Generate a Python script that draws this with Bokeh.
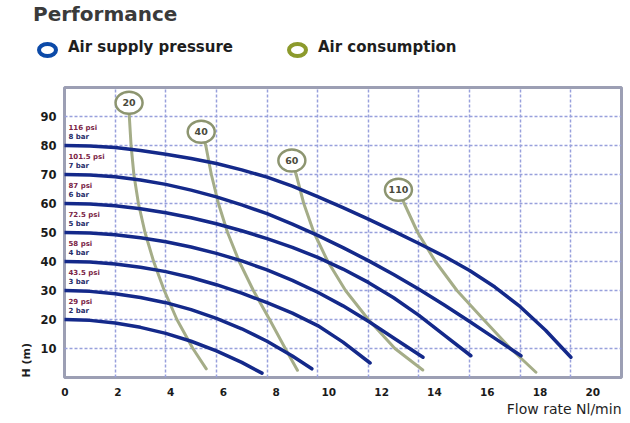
from bokeh.plotting import figure
from bokeh.layouts import column
from bokeh.models import (Range1d, LinearAxis, FixedTicker, Title, Div,
                          ColumnDataSource)
from bokeh.core.properties import value
from bokeh.embed import file_html
from bokeh.resources import INLINE

FONT = "DejaVu Sans"

# ---------------- data ----------------
flow_ticks = [0, 2, 4, 6, 8, 10, 12, 14, 16, 18, 20]
head_ticks = [10, 20, 30, 40, 50, 60, 70, 80, 90]

pressure_bar = ["8 bar", "7 bar", "6 bar", "5 bar", "4 bar", "3 bar", "2 bar"]
pressure_psi = ["116 psi", "101.5 psi", "87 psi", "72.5 psi", "58 psi", "43.5 psi", "29 psi"]

q_8bar = [0, 1, 2, 3, 4, 5, 6, 7, 8, 9, 10, 11, 12, 13, 14, 15, 16, 17, 18, 19, 20]
h_8bar = [80, 79.8, 79.3, 78.3, 77.0, 75.5, 73.8, 71.6, 69.1, 66.0, 62.4, 58.6,
          54.6, 50.5, 46.2, 41.8, 36.9, 31.2, 24.4, 16.3, 7]
q_7bar = [0, 1, 2, 3, 4, 5, 6, 7, 8, 9, 10, 11, 12, 13, 14, 15, 16, 17, 18.03]
h_7bar = [70, 69.8, 69.2, 68.1, 66.6, 64.6, 62.3, 59.5, 56.5, 52.9, 49.0, 44.8,
          40.3, 35.5, 30.4, 25.0, 19.3, 13.5, 7.5]
q_6bar = [0, 1, 2, 3, 4, 5, 6, 7, 8, 9, 10, 11, 12, 13, 14, 15, 16.05]
h_6bar = [60, 59.8, 59.2, 58.2, 56.8, 55.1, 53.0, 50.6, 47.9, 44.9, 41.4, 37.4,
          32.8, 27.5, 21.4, 14.6, 7.5]
q_5bar = [0, 1, 2, 3, 4, 5, 6, 7, 8, 9, 10, 11, 12, 13, 14.16]
h_5bar = [50, 49.8, 49.2, 48.2, 46.8, 45.0, 42.8, 40.2, 37.1, 33.5, 29.4, 24.7,
          19.4, 13.6, 7]
q_4bar = [0, 1, 2, 3, 4, 5, 6, 7, 8, 9, 10, 11, 12.07]
h_4bar = [40, 39.8, 39.1, 38.0, 36.5, 34.5, 32.0, 29.1, 25.8, 22.2, 17.9, 12.2, 5]
q_3bar = [0, 1, 2, 3, 4, 5, 6, 7, 8, 9, 9.77]
h_3bar = [30, 29.7, 28.9, 27.6, 25.8, 23.4, 20.4, 16.8, 12.5, 7.4, 3]
q_2bar = [0, 1, 2, 3, 4, 5, 6, 7, 7.8]
h_2bar = [20, 19.7, 18.8, 17.3, 15.2, 12.5, 9.2, 5.2, 1.5]

air_labels = ["20", "40", "60", "110"]
air_label_q = [2.55, 5.40, 8.98, 13.19]
air_label_h = [94.7, 84.7, 74.8, 64.7]
q_air20 = [2.55, 2.56, 2.63, 2.74, 2.92, 3.18, 3.52, 3.94, 4.44, 5.07, 5.6]
h_air20 = [94.7, 90, 80, 70, 60, 50, 40, 30, 20, 10, 3]
q_air40 = [5.40, 5.58, 5.80, 6.08, 6.44, 6.90, 7.46, 8.10, 8.72, 9.2]
h_air40 = [84.7, 80, 70, 60, 50, 40, 30, 20, 10, 2.5]
q_air60 = [8.98, 9.15, 9.45, 9.85, 10.4, 11.1, 12.0, 13.05, 14.15]
h_air60 = [74.8, 70, 60, 50, 40, 30, 20, 10, 2.6]
q_air110 = [13.19, 13.42, 13.95, 14.65, 15.5, 16.55, 17.62, 18.62]
h_air110 = [64.7, 60, 50, 40, 30, 20, 10, 1.8]

title_text = "Performance"
legend_labels = ["Air supply pressure", "Air consumption"]
legend_colors = ["#0c4aa8", "#8c9a2c"]

# ---------------- styles ----------------
BLUE = "#14298a"
OLIVE = "#a5ad88"
GRID = "#98a0dc"

# ---------- header: title + legend (HTML text) ----------
legend_left = [37, 287]
parts = [
    '<div style="position:relative;width:629px;height:85px;'
    'font-family:\'DejaVu Sans\';">',
    '<div style="position:absolute;left:33px;top:4px;font-size:20px;'
    'line-height:20px;font-weight:bold;color:#3a3a3a;white-space:nowrap;">'
    + title_text + '</div>',
]
for lab, col, lx in zip(legend_labels, legend_colors, legend_left):
    parts.append(
        f'<div style="position:absolute;left:{lx}px;top:42px;'
        'box-sizing:border-box;width:21px;height:16px;'
        f'border:4px solid {col};border-radius:50%;"></div>')
    parts.append(
        f'<div style="position:absolute;left:{lx + 31}px;top:40px;'
        'font-size:15px;line-height:15px;font-weight:bold;color:#1e1e1e;'
        f'white-space:nowrap;">{lab}</div>')
parts.append('</div>')
header = Div(text="".join(parts), width=629, height=85, margin=0)

# ---------- main chart ----------
p = figure(frame_width=557, frame_height=290,
           x_range=Range1d(0, 22), y_range=Range1d(0, 100),
           x_axis_location=None,
           output_backend="svg", toolbar_location=None,
           min_border_left=64, min_border_top=2, min_border_right=8,
           min_border_bottom=44,
           background_fill_color="white", border_fill_color="white")

p.outline_line_color = "#9c9fb4"
p.outline_line_width = 3

p.xgrid.ticker = FixedTicker(ticks=flow_ticks[1:])
p.ygrid.ticker = FixedTicker(ticks=head_ticks)
for g in (p.xgrid, p.ygrid):
    g.grid_line_color = GRID
    g.grid_line_width = 1.5
    g.grid_line_dash = "3 2"

ya = p.yaxis[0]
ya.ticker = FixedTicker(ticks=head_ticks)
ya.axis_line_color = None
ya.major_tick_line_color = None
ya.minor_tick_line_color = None
ya.major_tick_out = 0
ya.major_tick_in = 0
ya.major_label_standoff = 8
ya.major_label_text_font = FONT
ya.major_label_text_font_style = "bold"
ya.major_label_text_font_size = "11.5px"
ya.major_label_text_color = "#1a1a1a"

# x tick labels (printed positions drift slightly from the grid)
p.extra_x_ranges = {"labels": Range1d(-0.02, 21.09)}
xa = LinearAxis(x_range_name="labels", ticker=FixedTicker(ticks=flow_ticks),
                axis_line_color=None, major_tick_line_color=None,
                minor_tick_line_color=None, major_label_standoff=4,
                major_label_text_font=FONT, major_label_text_font_style="bold",
                major_label_text_font_size="10.5px",
                major_label_text_color="#1a1a1a")
p.add_layout(xa, "below")

p.add_layout(Title(text="Flow rate Nl/min", align="right", text_font=FONT,
                   text_font_style="normal", text_font_size="14px",
                   text_color="#1e1e1e", standoff=0), "below")
p.add_layout(Title(text="H (m)", align="left", text_font=FONT,
                   text_font_style="bold", text_font_size="11px",
                   text_color="#1e1e1e", standoff=10), "left")

# air consumption curves (under the pressure curves)
air_src = ColumnDataSource(dict(xs=[q_air20, q_air40, q_air60, q_air110],
                                ys=[h_air20, h_air40, h_air60, h_air110]))
p.multi_line("xs", "ys", source=air_src, line_color=OLIVE, line_width=3,
             line_cap="round", line_join="round")

# pressure curves
pres_src = ColumnDataSource(dict(
    xs=[q_8bar, q_7bar, q_6bar, q_5bar, q_4bar, q_3bar, q_2bar],
    ys=[h_8bar, h_7bar, h_6bar, h_5bar, h_4bar, h_3bar, h_2bar]))
p.multi_line("xs", "ys", source=pres_src, line_color=BLUE, line_width=3.5,
             line_cap="round", line_join="round")

# pressure labels at the start of each curve
lab_src = ColumnDataSource(dict(
    x=[c[0] for c in pres_src.data["xs"]],
    y=[c[0] for c in pres_src.data["ys"]],
    psi=pressure_psi, bar=pressure_bar))
p.text("x", "y", text="psi", source=lab_src, x_offset=4, y_offset=-18,
       text_baseline="middle", text_font=value(FONT), text_font_style="bold",
       text_font_size="7px", text_color="#7a2446")
p.text("x", "y", text="bar", source=lab_src, x_offset=4, y_offset=-9,
       text_baseline="middle", text_font=value(FONT), text_font_style="bold",
       text_font_size="7px", text_color="#262b68")

# air consumption label bubbles
bub_src = ColumnDataSource(dict(x=air_label_q, y=air_label_h, t=air_labels))
p.ellipse("x", "y", width=27, height=22, width_units="screen",
          height_units="screen", source=bub_src, fill_color="white",
          line_color="#8d9570", line_width=2.5)
p.text("x", "y", text="t", source=bub_src, text_align="center",
       text_baseline="middle", text_font=value(FONT), text_font_style="bold",
       text_font_size="9.5px", text_color="#4a4a3c")

layout = column(header, p, spacing=0)
open("out.html", "w").write(file_html(layout, INLINE))
